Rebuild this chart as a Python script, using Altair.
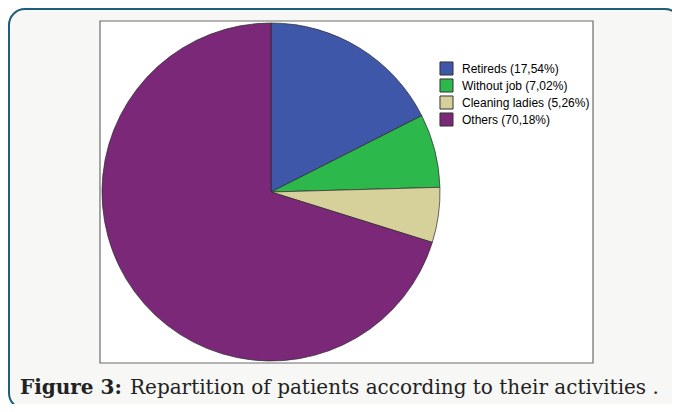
import altair as alt
import pandas as pd

categories = ["Retireds", "Without job", "Cleaning ladies", "Others"]
percents = [17.54, 7.02, 5.26, 70.18]
legend_labels = ["Retireds (17,54%)", "Without job (7,02%)", "Cleaning ladies (5,26%)", "Others  (70,18%)"]
colors = ["#3f57a9", "#2cb84b", "#d6d09b", "#7b2878"]
caption_bold = "Figure 3:"
caption_text = "Repartition of patients according to their activities ."

W, H = 664, 396

df = pd.DataFrame({
    "cat": categories,
    "pct": percents,
    "label": legend_labels,
    "idx": list(range(len(categories))),
})
one = pd.DataFrame({"a": [0]})

frame = alt.Chart(one).mark_rect(
    fill="#f7f7f5", stroke="#1d5e7a", strokeWidth=2, cornerRadius=16
).encode(x=alt.value(1), x2=alt.value(673), y=alt.value(1), y2=alt.value(401))

box = alt.Chart(one).mark_rect(
    fill="white", stroke="#6c6c6c", strokeWidth=1.2
).encode(x=alt.value(92), x2=alt.value(585), y=alt.value(13), y2=alt.value(355))

pie = alt.Chart(df).mark_arc(radius=169, stroke="#2a2a2a", strokeWidth=0.7).encode(
    theta=alt.Theta("pct:Q", stack=True),
    color=alt.Color(
        "label:N",
        scale=alt.Scale(domain=legend_labels, range=colors),
        sort=legend_labels,
        legend=alt.Legend(
            title=None,
            orient="none",
            legendX=431,
            legendY=53,
            symbolType="square",
            symbolSize=170,
            symbolStrokeColor="#333333",
            symbolStrokeWidth=1,
            labelFont="Liberation Sans",
            labelFontSize=12,
            labelColor="#000000",
            rowPadding=-2,
            labelOffset=8,
        ),
    ),
    order=alt.Order("idx:Q"),
    x=alt.value(263),
    y=alt.value(184),
)

cap1 = alt.Chart(one).mark_text(
    text=caption_bold, font="DejaVu Serif", fontWeight="bold", fontSize=20,
    align="left", baseline="alphabetic", color="#222222"
).encode(x=alt.value(12), y=alt.value(386))

cap2 = alt.Chart(one).mark_text(
    text=caption_text, font="DejaVu Serif", fontSize=20,
    align="left", baseline="alphabetic", color="#222222"
).encode(x=alt.value(122), y=alt.value(386))

chart = alt.layer(frame, box, pie, cap1, cap2).properties(
    width=W, height=H, padding=0, autosize=alt.AutoSizeParams(type="none"),
    background="white"
).configure_view(stroke=None)

chart.save("out.html", embed_options={"renderer": "svg", "actions": False})
